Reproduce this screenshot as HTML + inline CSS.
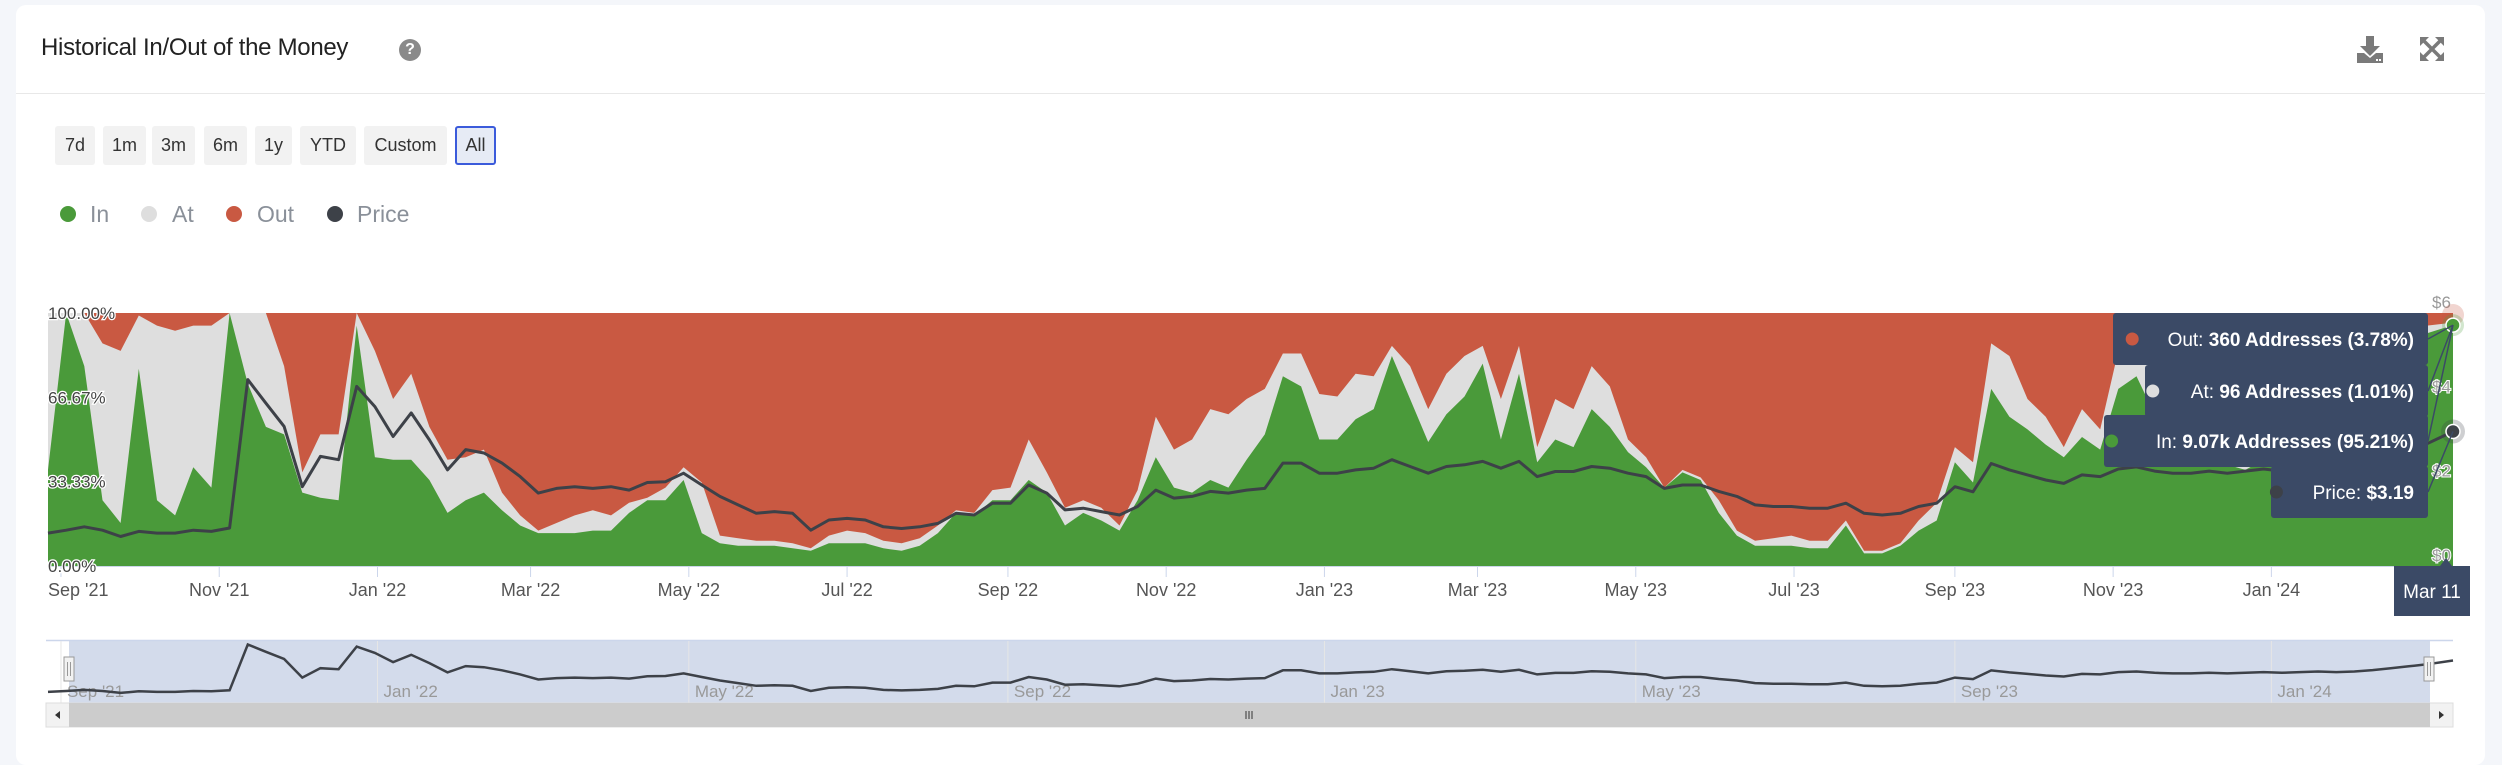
<!DOCTYPE html>
<html><head><meta charset="utf-8">
<style>
html,body{margin:0;padding:0;width:2502px;height:748px;overflow:hidden;background:#f4f6fa;font-family:"Liberation Sans",sans-serif;}
#card{position:absolute;left:16px;top:5px;width:2469px;height:760px;background:#fff;border-radius:10px;}
#title{position:absolute;left:41px;top:34px;font-size:24px;color:#222;letter-spacing:-0.3px;}
#help{position:absolute;left:399px;top:39px;width:22px;height:22px;border-radius:50%;background:#8a8a8a;color:#fff;font-size:16px;font-weight:bold;text-align:center;line-height:22px;}
#divider{position:absolute;left:16px;top:93px;width:2469px;height:1px;background:#e8e8e8;}
.btn{position:absolute;top:126px;height:39px;background:#f2f2f2;border-radius:3px;font-size:18px;color:#333;text-align:center;line-height:39px;box-sizing:border-box;}
.btn.sel{background:#e6ebf5;border:2px solid #3b5bdb;line-height:35px;}
.leg{position:absolute;top:200px;font-size:23px;color:#8a9099;line-height:28px;}
.dot{position:absolute;top:206px;width:16px;height:16px;border-radius:50%;}
</style></head>
<body>
<div id="card"></div>
<div id="title">Historical In/Out of the Money</div>
<div id="help">?</div>
<svg style="position:absolute;left:2357px;top:36px" width="26" height="27"><path d="M9 0h8v10h6l-10 10l-10-10h6z" fill="#7a7a7a"/><path d="M0 17h7l6 5l6-5h7v10h-26z" fill="#7a7a7a"/><rect x="19" y="23" width="2" height="2" fill="#fff"/><rect x="22" y="23" width="2" height="2" fill="#fff"/></svg>
<svg style="position:absolute;left:2420px;top:37px" width="24" height="24"><g stroke="#7a7a7a" stroke-width="3.5" fill="none"><path d="M3 3L21 21M21 3L3 21"/></g><g fill="#7a7a7a"><path d="M0 0h9l-9 9z"/><path d="M24 0h-9l9 9z"/><path d="M0 24h9l-9-9z"/><path d="M24 24h-9l9-9z"/></g></svg>
<div id="divider"></div>
<div class="btn" style="left:55px;width:40px">7d</div>
<div class="btn" style="left:103px;width:43px">1m</div>
<div class="btn" style="left:152px;width:43px">3m</div>
<div class="btn" style="left:204px;width:43px">6m</div>
<div class="btn" style="left:255px;width:37px">1y</div>
<div class="btn" style="left:300px;width:56px">YTD</div>
<div class="btn" style="left:364px;width:83px">Custom</div>
<div class="btn sel" style="left:455px;width:41px">All</div>
<div class="dot" style="left:60px;background:#4a9a3a"></div>
<div class="leg" style="left:90px">In</div>
<div class="dot" style="left:141px;background:#dedede"></div>
<div class="leg" style="left:172px">At</div>
<div class="dot" style="left:226px;background:#c95942"></div>
<div class="leg" style="left:257px">Out</div>
<div class="dot" style="left:327px;background:#3d4148"></div>
<div class="leg" style="left:357px">Price</div>
<svg id="chart" style="position:absolute;left:0;top:0" width="2502" height="748"></svg>
<script>
const inPct=[38,100,79,26,17,78,26,20,39,31,100,72,55,52,29,27,26,95,43,42,42,34,21,26,29,22,16,13,13,13,14,14,21,26,
26,34,13,9,8,8,8,7,6,9,9,9,7,6,8,13,21,20,26,26,34,29,16,21,18,14,26,43,31,29,34,31,42,52,
75,71,50,50,58,62,83,66,49,60,67,80,50,76,41,50,47,62,55,45,39,31,37,34,21,12,8,8,8,7,7,16,5,
5,8,14,18,41,33,70,59,54,48,43,51,46,
70,75,60,55,50,45,40,38,42,40,45,50,48,52,60,80,88,92,95.21];
const atPct=[62,0,21,62,68,21,69,73,56,64,0,28,45,27,8,25,26,5,42,24,34,21,21,17,17,7,4,1,4,7,8,6,4,1,
5,5,20,3,3,2,2,2,1,3,5,4,3,3,3,3,1,1,4,5,16,8,7,5,5,2,4,16,15,21,28,29,24,18,
9,13,18,17,18,13,4,13,13,16,16,7,16,11,6,16,15,17,16,5,4,0,1,1,5,2,2,3,4,3,3,2,1,
1,1,4,7,6,8,18,24,12,11,4,11,8,
15,17,15,13,12,10,10,8,10,10,10,10,10,10,10,10,6,3,1.01];
const priceVals=[0.78,0.85,0.93,0.85,0.70,0.82,0.78,0.78,0.85,0.82,0.9,4.42,3.86,3.31,1.88,2.6,2.52,4.26,3.78,3.07,3.63,2.99,2.28,2.76,2.68,2.44,2.12,1.73,1.84,1.88,1.84,1.88,1.80,1.98,
2.0,2.2,1.92,1.65,1.45,1.25,1.29,1.25,0.85,1.09,1.13,1.09,0.93,0.89,0.93,1.01,1.25,1.21,1.49,1.49,1.92,1.73,1.33,1.37,1.29,1.21,1.41,1.80,1.61,1.65,1.77,1.73,1.80,1.84,
2.44,2.44,2.2,2.2,2.28,2.32,2.52,2.36,2.2,2.36,2.4,2.48,2.32,2.48,2.12,2.24,2.24,2.36,2.32,2.2,2.12,1.84,1.92,1.92,1.77,1.65,1.45,1.41,1.41,1.37,1.37,1.49,1.25,
1.21,1.25,1.41,1.49,1.88,1.76,2.43,2.28,2.16,2.04,1.96,2.16,2.12,
2.3,2.35,2.25,2.2,2.2,2.25,2.2,2.25,2.3,2.25,2.3,2.35,2.3,2.35,2.45,2.6,2.75,2.9,3.19];
const tickLabels=["Sep '21","Nov '21","Jan '22","Mar '22","May '22","Jul '22","Sep '22","Nov '22","Jan '23","Mar '23","May '23","Jul '23","Sep '23","Nov '23","Jan '24","Mar '24"];
const tickDates=["2021-09-01","2021-11-01","2022-01-01","2022-03-01","2022-05-01","2022-07-01","2022-09-01","2022-11-01","2023-01-01","2023-03-01","2023-05-01","2023-07-01","2023-09-01","2023-11-01","2024-01-01","2024-03-01"];
const navLabels=["Sep '21","Jan '22","May '22","Sep '22","Jan '23","May '23","Sep '23","Jan '24"];
const navDates=["2021-09-01","2022-01-01","2022-05-01","2022-09-01","2023-01-01","2023-05-01","2023-09-01","2024-01-01"];
const yLabels=["100.00%","66.67%","33.33%","0.00%"];
const yVals=[100,66.67,33.33,0];
const priceTicks=["$6","$4","$2","$0"];
const priceTickVals=[6,4,2,0];

const NS="http://www.w3.org/2000/svg";
const svg=document.getElementById('chart');
const L=48,R=2453,T=313,B=566;
const start=Date.UTC(2021,7,27), end=Date.UTC(2024,2,11);
const totalDays=(end-start)/864e5;
const n=inPct.length;
function dayOf(i){return i===n-1?totalDays:i*7;}
function xDay(d){return L+(R-L)*d/totalDays;}
function xDate(s){return xDay((Date.parse(s)-start)/864e5);}
function xI(i){return xDay(dayOf(i));}
function yP(p){return B-(B-T)*p/100;}
function yPrice(v){return B-(B-T)*v/6;}
function yNav(v){return 702-v*13;}
function el(tag,attrs,parent){const e=document.createElementNS(NS,tag);for(const k in attrs)e.setAttribute(k,attrs[k]);(parent||svg).appendChild(e);return e;}

const plot=el('g',{});


const outRect=el('rect',{x:L,y:T,width:R-L,height:B-T,fill:'#c95942'},plot);


let atD='M'+L+','+B;
for(let i=0;i<n;i++)atD+=' L'+xI(i).toFixed(1)+','+yP(Math.min(100,inPct[i]+atPct[i])).toFixed(1);
atD+=' L'+R+','+B+'Z';
const atArea=el('path',{d:atD,fill:'#dedede'},plot);


let inD='M'+L+','+B;
for(let i=0;i<n;i++)inD+=' L'+xI(i).toFixed(1)+','+yP(inPct[i]).toFixed(1);
inD+=' L'+R+','+B+'Z';
const inArea=el('path',{d:inD,fill:'#4a9a3a'},plot);


let pD='';
for(let i=0;i<n;i++)pD+=(i?' L':'M')+xI(i).toFixed(1)+','+yPrice(priceVals[i]).toFixed(1);
const pLine=el('path',{d:pD,fill:'none',stroke:'#3d4148','stroke-width':3,'stroke-linejoin':'round'},plot);



el('line',{x1:L,x2:R,y1:B+0.5,y2:B+0.5,stroke:'#ccd6eb','stroke-width':1});
tickLabels.forEach((t,k)=>{
  const x=xDate(tickDates[k]);
  el('line',{x1:x,x2:x,y1:B,y2:B+11,stroke:'#ccd6eb','stroke-width':1});
  const tx=el('text',{x:k===0?L:x,y:596,'font-size':18,fill:'#555','text-anchor':k===0?'start':'middle'});
  tx.textContent=t;
  
  
});
yLabels.forEach((t,k)=>{
  const tx=el('text',{x:L,y:yP(yVals[k])+6,'font-size':17,fill:'#444',stroke:'#fff','stroke-width':2.5,'paint-order':'stroke'});
  tx.textContent=t;
  
  
});
priceTicks.forEach((t,k)=>{
  const tx=el('text',{x:2432,y:yPrice(priceTickVals[k])-5,'font-size':17,fill:'#999',stroke:'#fff','stroke-width':2,'paint-order':'stroke'});
  tx.textContent=t;
  
  
});

// end markers
const last=n-1, xe=xI(last);
el('circle',{cx:xe,cy:yP(100)+2,r:11,fill:'#c95942',opacity:0.25});
el('circle',{cx:xe,cy:yP(inPct[last]),r:11,fill:'#4a9a3a',opacity:0.25});
const m1=el('circle',{cx:xe,cy:yP(inPct[last]),r:7,fill:'#4a9a3a',stroke:'#fff','stroke-width':1.5});


el('circle',{cx:xe,cy:yPrice(priceVals[last]),r:12,fill:'#3d4148',opacity:0.25});
const m2=el('circle',{cx:xe,cy:yPrice(priceVals[last]),r:7,fill:'#3d4148',stroke:'#fff','stroke-width':1.5});



// tooltip
const tips=[
 {x:2113,y:313,w:315,h:52,c:'#c95942',k:'Out: ',v:'360 Addresses (3.78%)',n:'tooltip-out'},
 {x:2145,y:365,w:283,h:52,c:'#dedede',k:'At: ',v:'96 Addresses (1.01%)',n:'tooltip-at'},
 {x:2104,y:415,w:324,h:52,c:'#4a9a3a',k:'In: ',v:'9.07k Addresses (95.21%)',n:'tooltip-in'},
 {x:2271,y:466,w:157,h:52,c:'#3d4148',k:'Price: ',v:'$3.19',n:'tooltip-price'}];
tips.forEach(t=>{
  const g=el('g',{});
  
  
  el('rect',{x:t.x,y:t.y,width:t.w,height:t.h,rx:3,fill:'#3b4a66'},g);
  el('line',{x1:t.x+t.w,y1:t.y+t.h/2,x2:xe,y2:t.n==='tooltip-price'?yPrice(priceVals[last]):yP(inPct[last]),stroke:'#3b4a66','stroke-width':1.5},g);
  const tx=el('text',{x:t.x+t.w-14,y:t.y+t.h/2+7,'font-size':19,fill:'#fff','text-anchor':'end'},g);
  const a=document.createElementNS(NS,'tspan');a.textContent=t.k;tx.appendChild(a);
  const b=document.createElementNS(NS,'tspan');b.setAttribute('font-weight','bold');b.textContent=t.v;tx.appendChild(b);
  const bb=tx.getBBox?null:null;
  el('circle',{cx:t.x+t.w-14-(t.k.length+t.v.length)*10.3-14,cy:t.y+t.h/2,r:6.5,fill:t.c},g);
});
const dg=el('g',{});


el('path',{d:'M2394,566 H2440 L2446,558 L2452,566 H2470 V616 H2394 Z',fill:'#3b4a66'},dg);
const dt=el('text',{x:2432,y:598,'font-size':19,fill:'#fff','text-anchor':'middle'},dg);dt.textContent='Mar 11';

// navigator
const nav=el('g',{});


el('rect',{x:46,y:640,width:2407,height:63,fill:'#fff'},nav);
el('rect',{x:69,y:640,width:2361,height:63,fill:'#d3dbeb'},nav);
el('line',{x1:46,x2:2453,y1:640.5,y2:640.5,stroke:'#ccd6eb','stroke-width':1.5},nav);
navLabels.forEach((t,k)=>{
  const x=xDate(navDates[k]);
  el('line',{x1:x,x2:x,y1:641,y2:703,stroke:'#e6e6e6','stroke-width':1},nav);
  const tx=el('text',{x:x+6,y:697,'font-size':17,fill:'#999'},nav);tx.textContent=t;
  
  
});
let nD='';
for(let i=0;i<n;i++)nD+=(i?' L':'M')+xI(i).toFixed(1)+','+yNav(priceVals[i]).toFixed(1);
const nl=el('path',{d:nD,fill:'none',stroke:'#3d4148','stroke-width':2.5},nav);


[69,2429].forEach((hx,k)=>{
  const h=el('rect',{x:hx-5,y:657,width:10,height:24,fill:'#f2f2f2',stroke:'#999','stroke-width':1},nav);
  
  
  el('line',{x1:hx-1.5,x2:hx-1.5,y1:662,y2:676,stroke:'#999'},nav);
  el('line',{x1:hx+1.5,x2:hx+1.5,y1:662,y2:676,stroke:'#999'},nav);
});
const sb=el('g',{});


el('rect',{x:46,y:703,width:2407,height:24,fill:'#f2f2f2',stroke:'#ddd'},sb);
el('rect',{x:69,y:703,width:2361,height:24,fill:'#cccccc'},sb);
el('path',{d:'M55,715 L60,711 V719 Z',fill:'#333'},sb);
el('path',{d:'M2444,715 L2439,711 V719 Z',fill:'#333'},sb);
[1246,1249,1252].forEach(x=>el('line',{x1:x,x2:x,y1:711,y2:719,stroke:'#333'},sb));
</script>
</body></html>
